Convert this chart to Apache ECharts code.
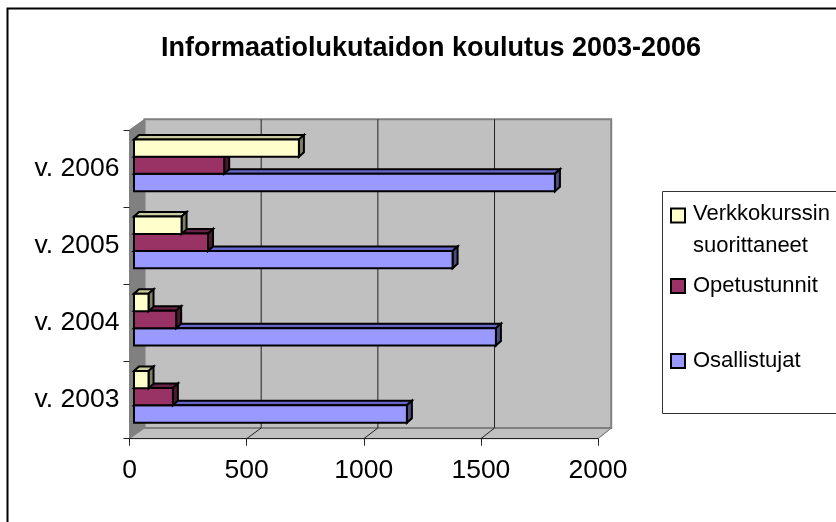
<!DOCTYPE html>
<html><head><meta charset="utf-8">
<style>html,body{margin:0;padding:0;background:#fff}#c{width:836px;height:522px}</style>
<script src="https://cdn.jsdelivr.net/npm/echarts@6/dist/echarts.min.js"></script>
</head><body><div id="c"></div>
<script>
const titleText = 'Informaatiolukutaidon koulutus 2003-2006';
const categories = ['v. 2003', 'v. 2004', 'v. 2005', 'v. 2006'];
const osallistujat = [1165, 1545, 1360, 1797];
const opetustunnit = [166, 180, 316, 385];
const verkkokurssi = [62, 62, 203, 704];
const valueTicks = [500, 1000, 1500, 2000];
const seriesNames = ['Osallistujat', 'Opetustunnit', 'Verkkokurssin suorittaneet'];

const FONT = '"Liberation Sans", Arial, sans-serif';
const DX = 15, DY = 10.7;          // wall depth
const BACK = 0.9962;               // back wall scale relative to the front plane
const BX = 4.5, BY = 3.5;          // bar offset from front plane
const BDX = 5, BDY = 4.5;          // bar depth

const chart = echarts.init(document.getElementById('c'), null, {renderer: 'canvas'});

function poly(points, fill, stroke, lw) {
  return {type: 'polygon', shape: {points}, style: {fill, stroke: stroke || null, lineWidth: lw || 0, lineJoin: 'miter'}};
}

function wallItem(params, api) {
  const tick = api.value(0);
  const cs = params.coordSys;
  const x0 = cs.x, x1 = cs.x + cs.width, y0 = cs.y, y1 = cs.y + cs.height;
  const backX = x => x0 + DX + (x - x0) * BACK;
  const children = [];
  if (params.dataIndex === 0) {
    children.push(poly([[x0, y0], [backX(x0), y0 - DY], [backX(x0), y1 - DY], [x0, y1]], '#808080', '#808080', 1));
    children.push(poly([[x0, y1], [x1, y1], [backX(x1), y1 - DY], [backX(x0), y1 - DY]], '#c0c0c0', '#808080', 1));
    children.push(poly([[backX(x0), y0 - DY], [backX(x1), y0 - DY], [backX(x1), y1 - DY], [backX(x0), y1 - DY]], '#c0c0c0', '#808080', 2));
  } else {
    const x = api.coord([tick, 0])[0];
    if (tick < 2000) {
      children.push({type: 'line', shape: {x1: backX(x), y1: y0 - DY, x2: backX(x), y2: y1 - DY}, style: {stroke: '#222', lineWidth: 1}});
    }
    children.push({type: 'line', shape: {x1: x, y1: y1, x2: backX(x), y2: y1 - DY}, style: {stroke: tick < 2000 ? '#222' : '#808080', lineWidth: 1}});
  }
  return {type: 'group', children};
}

function barRenderer(slot, front, top, side) {
  return function (params, api) {
    const p = api.coord([api.value(0), api.value(1)]);
    const o = api.coord([0, api.value(1)]);
    const band = api.size([0, 1])[1];
    const h = band * 0.2255;
    const yT = p[1] - BY + h * (slot - 1.5) + (slot === 0 ? 0.4 : 0);
    const yB = yT + h;
    const xL = o[0] + BX, xR = p[0] + BX;
    const lw = 2, st = '#000';
    return {type: 'group', children: [
      poly([[xL, yT], [xL + BDX, yT - BDY], [xR + BDX, yT - BDY], [xR, yT]], top, st, lw),
      poly([[xR, yT], [xR + BDX, yT - BDY], [xR + BDX, yB - BDY], [xR, yB]], side, st, lw),
      poly([[xL, yT], [xR, yT], [xR, yB], [xL, yB]], front, st, lw)
    ]};
  };
}

function toData(vals) { return vals.map((v, i) => [v, i]); }

function legendAt(name, top, icon, h) {
  return {
    data: [{name, icon}], left: 670, top, orient: 'vertical', padding: 0,
    itemWidth: 14, itemHeight: h, itemGap: 0, selectedMode: false,
    formatter: n => n.replace('Verkkokurssin ', 'Verkkokurssin\n'),
    textStyle: {fontFamily: FONT, fontSize: 22, color: '#000', padding: [0, 0, 0, 3], lineHeight: 32}
  };
}
const squareIcon = 'path://M0 0H14V14H0Z';
const tallIcon = 'path://M0 0H14V14H0Z M0 14M14 43';

chart.setOption({
  animation: false,
  backgroundColor: '#fff',
  title: {
    text: titleText, left: 161, top: 35, padding: 0,
    textStyle: {fontFamily: FONT, fontSize: 27, fontWeight: 'bold', color: '#000'}
  },
  grid: {left: 129.5, right: 238, top: 130, bottom: 83.3, containLabel: false},
  xAxis: {
    type: 'value', min: 0, max: 2000, interval: 500, z: 6,
    splitLine: {show: false},
    axisLine: {show: true, lineStyle: {color: '#222', width: 1}},
    axisTick: {show: true, length: 7, lineStyle: {color: '#222'}},
    axisLabel: {fontFamily: FONT, fontSize: 26.5, color: '#000', margin: 18, formatter: v => String(v)}
  },
  yAxis: {
    type: 'category', data: categories, z: 6,
    axisLine: {show: false},
    axisTick: {show: true, length: 6, lineStyle: {color: '#222'}},
    axisLabel: {fontFamily: FONT, fontSize: 26.5, color: '#000', margin: 10}
  },
  legend: [
    legendAt(seriesNames[2], 198, tallIcon, 43),
    legendAt(seriesNames[1], 270, squareIcon, 14),
    legendAt(seriesNames[0], 345, squareIcon, 14)
  ],
  graphic: [
    {type: 'rect', z: -1, shape: {x: 7.5, y: 8.5, width: 860, height: 560}, style: {fill: '#fff', stroke: '#000', lineWidth: 2}},
    {type: 'rect', z: -1, shape: {x: 662.5, y: 191.5, width: 200, height: 222}, style: {fill: '#fff', stroke: '#333', lineWidth: 1}}
  ],
  series: [
    {type: 'custom', name: 'walls', renderItem: wallItem, silent: true, z: 1,
     encode: {x: 0, y: 1}, data: [[0, 0]].concat(valueTicks.map(t => [t, 0]))},
    {type: 'custom', name: seriesNames[0], renderItem: barRenderer(2, '#9999ff', '#6666cc', '#4c4c80'), z: 2,
     itemStyle: {color: '#9999ff', borderColor: '#000', borderWidth: 2},
     encode: {x: 0, y: 1}, data: toData(osallistujat)},
    {type: 'custom', name: seriesNames[1], renderItem: barRenderer(1, '#993366', '#662244', '#4c1933'), z: 3,
     itemStyle: {color: '#993366', borderColor: '#000', borderWidth: 2},
     encode: {x: 0, y: 1}, data: toData(opetustunnit)},
    {type: 'custom', name: seriesNames[2], renderItem: barRenderer(0, '#ffffcc', '#cccca3', '#808066'), z: 4,
     itemStyle: {color: '#ffffcc', borderColor: '#000', borderWidth: 2},
     encode: {x: 0, y: 1}, data: toData(verkkokurssi)}
  ]
});
</script></body></html>
